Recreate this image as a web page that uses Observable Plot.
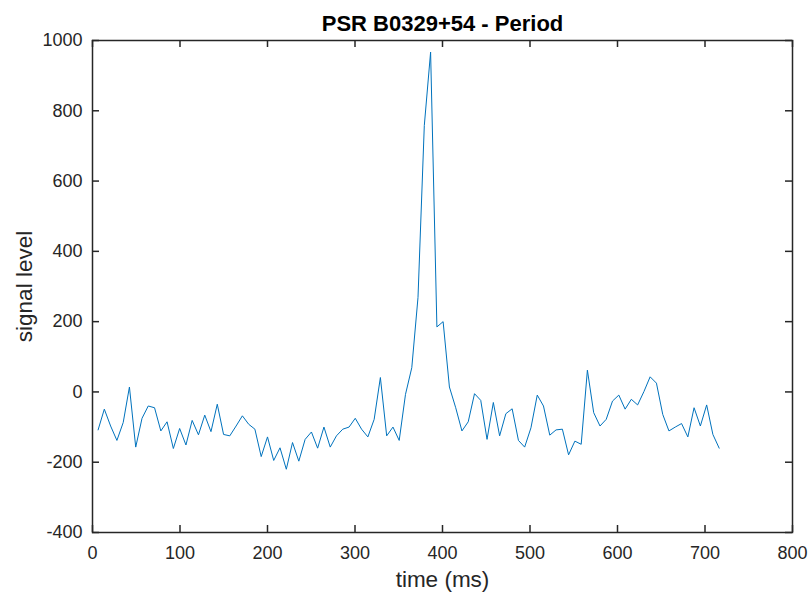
<!DOCTYPE html>
<html>
<head>
<meta charset="utf-8">
<script src="https://cdn.jsdelivr.net/npm/d3@7"></script>
<script src="https://cdn.jsdelivr.net/npm/@observablehq/plot@0.6"></script>
<style>
  html, body { margin: 0; padding: 0; background: #fff; }
</style>
</head>
<body>
<div id="chart"></div>
<script>
const titleText = "PSR B0329+54 - Period";
const xLabel = "time (ms)";
const yLabel = "signal level";
const xTicks = [0, 100, 200, 300, 400, 500, 600, 700, 800];
const yTicks = [-400, -200, 0, 200, 400, 600, 800, 1000];

const timeMs = [
  6.4, 13.5, 20.7, 27.9, 35.1, 42.2, 49.4, 56.6, 63.7, 70.9,
  78.1, 85.2, 92.4, 99.6, 106.8, 113.9, 121.1, 128.3, 135.4, 142.6,
  149.8, 156.9, 164.1, 171.3, 178.5, 185.6, 192.8, 200.0, 207.1, 214.3,
  221.5, 228.6, 235.8, 243.0, 250.2, 257.3, 264.5, 271.7, 278.8, 286.0,
  293.2, 300.3, 307.5, 314.7, 321.9, 329.0, 336.2, 343.4, 350.5, 357.7,
  364.9, 372.0, 379.2, 386.4, 393.6, 400.7, 407.9, 415.1, 422.2, 429.4,
  436.6, 443.7, 450.9, 458.1, 465.3, 472.4, 479.6, 486.8, 493.9, 501.1,
  508.3, 515.4, 522.6, 529.8, 537.0, 544.1, 551.3, 558.5, 565.6, 572.8,
  580.0, 587.1, 594.3, 601.5, 608.7, 615.8, 623.0, 630.2, 637.3, 644.5,
  651.7, 658.8, 666.0, 673.2, 680.4, 687.5, 694.7, 701.9, 709.0, 716.2
];

const signalLevel = [
  -108, -49, -97, -138, -87, 14, -157, -75, -40, -45,
  -111, -85, -161, -104, -151, -81, -122, -66, -113, -35,
  -121, -125, -97, -68, -92, -106, -184, -128, -195, -159,
  -220, -144, -197, -135, -114, -160, -100, -157, -125, -106,
  -100, -75, -106, -128, -78, 41, -125, -100, -138, -7,
  69, 269, 758, 967, 185, 200, 14, -45, -111, -85,
  -5, -24, -135, -30, -125, -62, -48, -138, -157, -102,
  -9, -40, -123, -108, -106, -179, -140, -149, 62, -59,
  -97, -78, -26, -9, -49, -21, -37, 1, 43, 25,
  -64, -111, -100, -90, -128, -45, -97, -37, -121, -160
];

const data = timeMs.map((t, i) => ({t, v: signalLevel[i]}));

const W = 811, H = 594;
const mL = 92, mR = 19, mT = 40, mB = 62;
const innerW = W - mL - mR, innerH = H - mT - mB;
const tickLen = 7;
const axisColor = "#262626";
const fmt = d => String(d);

const chart = Plot.plot({
  width: W,
  height: H,
  marginLeft: mL,
  marginRight: mR,
  marginTop: mT,
  marginBottom: mB,
  style: {
    fontFamily: "'Liberation Sans', Arial, Helvetica, sans-serif",
    color: axisColor,
    background: "#fff"
  },
  x: {domain: [0, 800], ticks: xTicks, label: null},
  y: {domain: [-400, 1000], ticks: yTicks, label: null},
  marks: [
    Plot.line(data, {x: "t", y: "v", stroke: "#0072BD", strokeWidth: 1}),
    Plot.frame({stroke: axisColor, strokeWidth: 1.5}),
    Plot.tickX(xTicks, {x: d => d, insetTop: innerH - tickLen, stroke: axisColor, strokeWidth: 1.5}),
    Plot.tickX(xTicks, {x: d => d, insetBottom: innerH - tickLen, stroke: axisColor, strokeWidth: 1.5}),
    Plot.tickY(yTicks, {y: d => d, insetRight: innerW - tickLen, stroke: axisColor, strokeWidth: 1.5}),
    Plot.tickY(yTicks, {y: d => d, insetLeft: innerW - tickLen, stroke: axisColor, strokeWidth: 1.5}),
    Plot.axisX({ticks: xTicks, tickFormat: fmt, tickSize: 0, tickPadding: 14, fontSize: 18, label: null, fill: axisColor}),
    Plot.axisY({ticks: yTicks, tickFormat: fmt, tickSize: 0, tickPadding: 10, fontSize: 18, label: null, fill: axisColor}),
    Plot.text([titleText], {text: d => d, frameAnchor: "top", textAnchor: "middle", dy: -10, lineAnchor: "bottom", fontSize: 22, fontWeight: "bold", fill: "#000"}),
    Plot.text([xLabel], {text: d => d, frameAnchor: "bottom", textAnchor: "middle", dy: 54, lineAnchor: "bottom", fontSize: 22.5, fill: axisColor}),
    Plot.text([yLabel], {text: d => d, frameAnchor: "left", textAnchor: "middle", dx: -61, rotate: -90, lineAnchor: "bottom", fontSize: 22.5, fill: axisColor})
  ]
});

document.getElementById("chart").appendChild(chart);
</script>
</body>
</html>
